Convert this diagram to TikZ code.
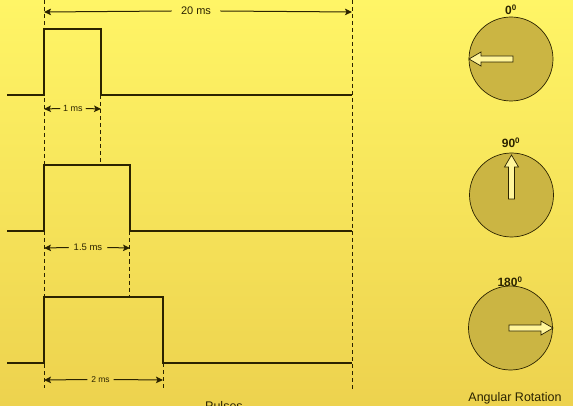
\documentclass[tikz,border=0pt]{standalone}
\usepackage{fontspec}
\setmainfont{Liberation Sans}
\usetikzlibrary{arrows.meta}
\definecolor{ink}{HTML}{2B2300}
\definecolor{bgtop}{HTML}{FFF566}
\definecolor{bgbot}{HTML}{EDD24E}
\definecolor{dialfill}{HTML}{CBB543}
\definecolor{pointerfill}{HTML}{FFF59B}
\begin{document}
\begin{tikzpicture}[x=1pt,y=-1pt,
  wave/.style={draw=ink,line width=2pt,line join=miter},
  guide/.style={draw=ink,line width=0.8pt,dash pattern=on 4pt off 3pt},
  dimline/.style={draw=ink,line width=1pt,-{Stealth[length=7pt,width=6.5pt,inset=1.5pt]}},
  dimlabel/.style={text=ink,inner sep=0pt,outer sep=0pt},
  dial/.style={circle,draw=ink,line width=0.7pt,fill=dialfill,minimum size=84pt,inner sep=0pt},
  pointer/.style={draw=ink,line width=0.7pt,fill=pointerfill,line join=miter},
  deg/.style={font=\fontsize{12}{14}\selectfont\bfseries,text=ink,inner sep=0pt}]
\fill[top color=bgtop,bottom color=bgbot] (0,0) rectangle (573,406);
\useasboundingbox (0,0) rectangle (573,406);

% guides
\draw[guide] (44,0) -- (44,388);
\draw[guide] (352,0) -- (352,390);
\draw[guide] (100.5,95) -- (100.5,165);
\draw[guide] (129.5,231.5) -- (129.5,297);
\draw[guide] (163,363) -- (163,388);

% pulses
\draw[wave] (7,95) -- (44,95) -- (44,29) -- (101,29) -- (101,95) -- (352,95);
\draw[wave] (7,231.5) -- (44,231.5) -- (44,165) -- (130,165) -- (130,231.5) -- (352,231.5);
\draw[wave] (7,363) -- (44,363) -- (44,297) -- (163,297) -- (163,363) -- (352,363);

% dimension coordinates
\coordinate (p20a) at (44,12);
\coordinate (p20b) at (352,12);
\coordinate (p1a) at (44,109);
\coordinate (p1b) at (101,109);
\coordinate (p15a) at (44,248);
\coordinate (p15b) at (130,248);
\coordinate (p2a) at (44,380);
\coordinate (p2b) at (163,380);

\node[dimlabel,font=\fontsize{11}{13}\selectfont,inner xsep=9.5pt] (t20) at (196,11) {20 ms};
\draw[dimline] (t20.west) -- (p20a);
\draw[dimline] (t20.east) -- (p20b);

\node[dimlabel,font=\fontsize{9}{11}\selectfont,inner xsep=3pt] (t1) at (73,108.5) {1 ms};
\draw[dimline] (t1.west) -- (p1a);
\draw[dimline] (t1.east) -- (p1b);

\node[dimlabel,font=\fontsize{9.5}{11}\selectfont,inner xsep=5pt] (t15) at (88,247.5) {1.5 ms};
\draw[dimline] (t15.west) -- (p15a);
\draw[dimline] (t15.east) -- (p15b);

\node[dimlabel,font=\fontsize{8.5}{10}\selectfont,inner xsep=4pt] (t2) at (100.5,379.5) {2 ms};
\draw[dimline] (t2.west) -- (p2a);
\draw[dimline] (t2.east) -- (p2b);

% dials
\node[dial] (d0) at (511,59) {};
\node[dial] (d90) at (511.5,195) {};
\node[dial] (d180) at (510.5,328) {};

\node[deg] (l0) at (511,10) {0\textsuperscript{0}};
\node[deg] (l90) at (511,143) {90\textsuperscript{0}};
\node[deg] (l180) at (510,282) {180\textsuperscript{0}};

% pointers
\draw[pointer] (513,56) -- (481,56) -- (481,52) -- (469,59) -- (481,66) -- (481,62) -- (513,62) -- cycle;
\draw[pointer] (508.5,199) -- (508.5,167) -- (504.5,167) -- (511.5,155) -- (518.5,167) -- (514.5,167) -- (514.5,199) -- cycle;
\draw[pointer] (509,325) -- (541,325) -- (541,321) -- (553,328) -- (541,335) -- (541,331) -- (509,331) -- cycle;

\node[text=ink,font=\fontsize{12.5}{14}\selectfont,inner sep=0pt] (cap) at (515,398) {Angular Rotation};
\node[text=ink,font=\fontsize{12.5}{14}\selectfont,inner sep=0pt,anchor=north west] (pulses) at (205,401) {Pulses};
\end{tikzpicture}
\end{document}
